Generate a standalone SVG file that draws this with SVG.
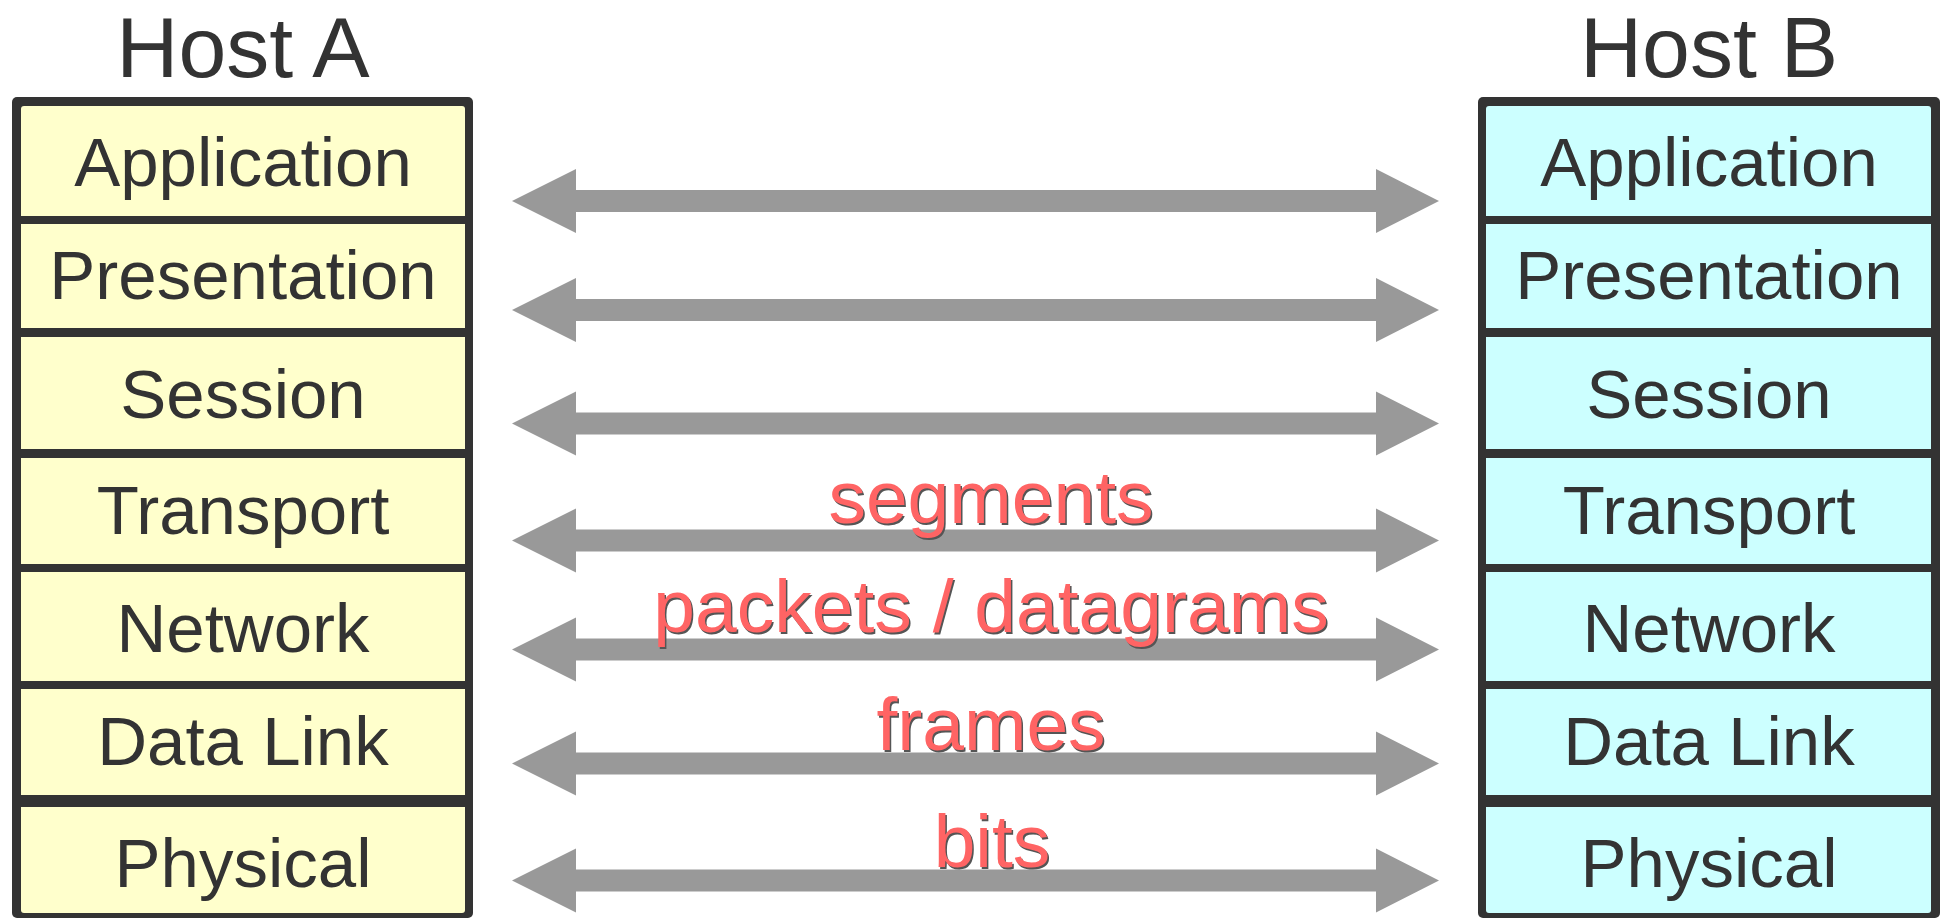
<svg xmlns="http://www.w3.org/2000/svg" xmlns:xlink="http://www.w3.org/1999/xlink" width="1941" height="920" viewBox="0 0 1941 920">
<style>
.frame{fill:#333333}
.fa{fill:#FFFFCC}
.fb{fill:#CCFFFF}
.div{fill:#333333}
.host{font-family:"Liberation Sans",Arial,sans-serif;font-size:86px;fill:#333333;text-anchor:middle}
.layer{font-family:"Liberation Sans",Arial,sans-serif;font-size:69px;fill:#333333;text-anchor:middle}
.lbl{font-family:"Liberation Sans",Arial,sans-serif;font-size:75px;text-anchor:middle}
.lblr{fill:#FF6464}
.lbls{fill:#555555}
.arr{fill:#999999}
</style>
<defs>
<path id="dbl" d="M512,0 L576,-32 L576,-11 L1376,-11 L1376,-32 L1439,0 L1376,32 L1376,11 L576,11 L576,32 Z"/>
</defs>
<rect width="1941" height="920" fill="#FFFFFF"/>
<g id="hostA">
<text class="host" x="243" y="77">Host A</text>
<rect class="frame" x="12" y="97" width="461" height="821" rx="5"/>
<rect class="fa" x="21" y="106" width="444" height="807" rx="3"/>
<rect class="div" x="21" y="216" width="444" height="8"/>
<rect class="div" x="21" y="328" width="444" height="9"/>
<rect class="div" x="21" y="449" width="444" height="9"/>
<rect class="div" x="21" y="564" width="444" height="8"/>
<rect class="div" x="21" y="681" width="444" height="8"/>
<rect class="div" x="21" y="795" width="444" height="12"/>
<text class="layer" x="243" y="186">Application</text>
<text class="layer" x="243" y="299">Presentation</text>
<text class="layer" x="243" y="418">Session</text>
<text class="layer" x="243" y="534">Transport</text>
<text class="layer" x="243" y="652">Network</text>
<text class="layer" x="243" y="765">Data Link</text>
<text class="layer" x="243" y="887">Physical</text>
</g>
<g id="hostB">
<text class="host" x="1709" y="77">Host B</text>
<rect class="frame" x="1478" y="97" width="462" height="821" rx="5"/>
<rect class="fb" x="1486" y="106" width="445" height="807" rx="3"/>
<rect class="div" x="1486" y="216" width="445" height="8"/>
<rect class="div" x="1486" y="328" width="445" height="9"/>
<rect class="div" x="1486" y="449" width="445" height="9"/>
<rect class="div" x="1486" y="564" width="445" height="8"/>
<rect class="div" x="1486" y="681" width="445" height="8"/>
<rect class="div" x="1486" y="795" width="445" height="12"/>
<text class="layer" x="1709" y="186">Application</text>
<text class="layer" x="1709" y="299">Presentation</text>
<text class="layer" x="1709" y="418">Session</text>
<text class="layer" x="1709" y="534">Transport</text>
<text class="layer" x="1709" y="652">Network</text>
<text class="layer" x="1709" y="765">Data Link</text>
<text class="layer" x="1709" y="887">Physical</text>
</g>
<g id="connectors">
<use xlink:href="#dbl" class="arr" transform="translate(0,201)"/>
<use xlink:href="#dbl" class="arr" transform="translate(0,310)"/>
<use xlink:href="#dbl" class="arr" transform="translate(0,423.5)"/>
<use xlink:href="#dbl" class="arr" transform="translate(0,540.5)"/>
<use xlink:href="#dbl" class="arr" transform="translate(0,649.5)"/>
<use xlink:href="#dbl" class="arr" transform="translate(0,763.5)"/>
<use xlink:href="#dbl" class="arr" transform="translate(0,880.5)"/>
</g>
<g id="labels">
<text class="lbl lbls" x="992.5" y="524.5">segments</text>
<text class="lbl lblr" x="991" y="523">segments</text>
<text class="lbl lbls" x="992.5" y="633.5">packets / datagrams</text>
<text class="lbl lblr" x="991" y="632">packets / datagrams</text>
<text class="lbl lbls" x="992.5" y="751.5">frames</text>
<text class="lbl lblr" x="991" y="750">frames</text>
<text class="lbl lbls" x="993.5" y="868.5">bits</text>
<text class="lbl lblr" x="992" y="867">bits</text>
</g>
</svg>
